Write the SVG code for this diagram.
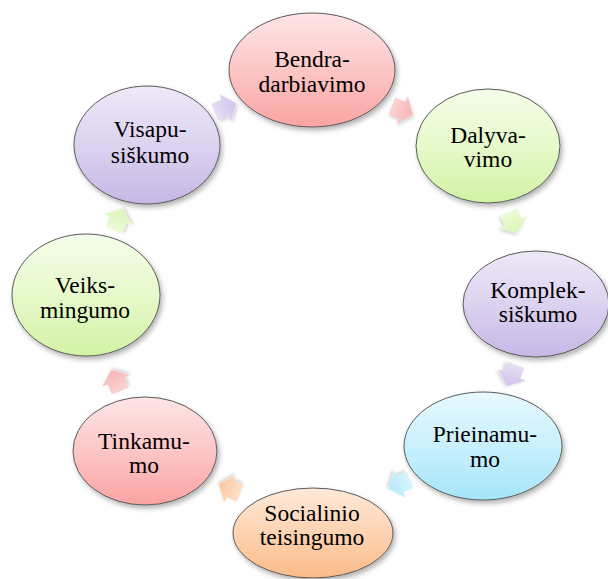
<svg xmlns="http://www.w3.org/2000/svg" width="608" height="579" viewBox="0 0 608 579">
<defs>
  <filter id="sh" x="-20%" y="-20%" width="150%" height="150%">
    <feDropShadow dx="2" dy="3" stdDeviation="2.5" flood-color="#000" flood-opacity="0.3"/>
  </filter>
  <filter id="sha" x="-40%" y="-40%" width="180%" height="180%">
    <feDropShadow dx="1.5" dy="2" stdDeviation="1.5" flood-color="#000" flood-opacity="0.18"/>
  </filter>
  <linearGradient id="gRed" x1="0" y1="0" x2="0" y2="1">
    <stop offset="0" stop-color="#fde6e6"/><stop offset="0.5" stop-color="#fcc6c6"/><stop offset="1" stop-color="#fba3a3"/>
  </linearGradient>
  <linearGradient id="gGreen" x1="0" y1="0" x2="0" y2="1">
    <stop offset="0" stop-color="#f5fdea"/><stop offset="0.5" stop-color="#e6f9cb"/><stop offset="1" stop-color="#d2f3a4"/>
  </linearGradient>
  <linearGradient id="gPurple" x1="0" y1="0" x2="0" y2="1">
    <stop offset="0" stop-color="#eee9f8"/><stop offset="0.5" stop-color="#dcd2f0"/><stop offset="1" stop-color="#c7b7e6"/>
  </linearGradient>
  <linearGradient id="gBlue" x1="0" y1="0" x2="0" y2="1">
    <stop offset="0" stop-color="#e8f9fe"/><stop offset="0.5" stop-color="#c9f0fd"/><stop offset="1" stop-color="#a6e5fa"/>
  </linearGradient>
  <linearGradient id="gOrange" x1="0" y1="0" x2="0" y2="1">
    <stop offset="0" stop-color="#fee9d9"/><stop offset="0.5" stop-color="#fdd3b2"/><stop offset="1" stop-color="#fbbb88"/>
  </linearGradient>
  <linearGradient id="aRed" x1="0" y1="0" x2="1" y2="0">
    <stop offset="0" stop-color="#fbd3d3"/><stop offset="1" stop-color="#f8b4b4"/>
  </linearGradient>
  <linearGradient id="aGreen" x1="0" y1="0" x2="1" y2="0">
    <stop offset="0" stop-color="#ecfbd8"/><stop offset="1" stop-color="#daf6b6"/>
  </linearGradient>
  <linearGradient id="aPurple" x1="0" y1="0" x2="1" y2="0">
    <stop offset="0" stop-color="#e6def5"/><stop offset="1" stop-color="#d0c3ec"/>
  </linearGradient>
  <linearGradient id="aBlue" x1="0" y1="0" x2="1" y2="0">
    <stop offset="0" stop-color="#d8f5fe"/><stop offset="1" stop-color="#b4eafc"/>
  </linearGradient>
  <linearGradient id="aOrange" x1="0" y1="0" x2="1" y2="0">
    <stop offset="0" stop-color="#fde0c8"/><stop offset="1" stop-color="#fbc79d"/>
  </linearGradient>
  <polygon id="arr" points="-11,-9 0,-9 0,-15 12,0 0,15 0,9 -11,9"/>
</defs>
<style>
  .node ellipse { stroke: #5a5a5a; stroke-width: 1; filter: url(#sh); }
  .lbl { font-family: 'Liberation Serif', 'Times New Roman', serif; font-size: 23.5px; fill: #000; text-anchor: middle; }
  .conn use { filter: url(#sha); }
</style>
<rect width="608" height="579" fill="#fff"/>

<g id="connectors" class="conn">
  <use href="#arr" fill="url(#aRed)" transform="translate(402,110) rotate(22.5)"/>
  <use href="#arr" fill="url(#aGreen)" transform="translate(513,222) rotate(67.5)"/>
  <use href="#arr" fill="url(#aPurple)" transform="translate(512,375) rotate(112.5)"/>
  <use href="#arr" fill="url(#aBlue)" transform="translate(400,484) rotate(157.5)"/>
  <use href="#arr" fill="url(#aOrange)" transform="translate(230,489) rotate(202.5)"/>
  <use href="#arr" fill="url(#aRed)" transform="translate(116,381) rotate(247.5)"/>
  <use href="#arr" fill="url(#aGreen)" transform="translate(118,220) rotate(292.5)"/>
  <use href="#arr" fill="url(#aPurple)" transform="translate(225,108) rotate(337.5)"/>
</g>

<g id="n-bendradarbiavimo" class="node">
  <ellipse cx="312" cy="70" rx="83" ry="57" fill="url(#gRed)"/>
  <text class="lbl" x="312" y="67">Bendra-</text>
  <text class="lbl" x="312" y="92">darbiavimo</text>
</g>
<g id="n-dalyvavimo" class="node">
  <ellipse cx="488" cy="146" rx="72" ry="57" fill="url(#gGreen)"/>
  <text class="lbl" x="488" y="143">Dalyva-</text>
  <text class="lbl" x="488" y="167">vimo</text>
</g>
<g id="n-kompleksiskumo" class="node">
  <ellipse cx="536" cy="304" rx="73" ry="53" fill="url(#gPurple)"/>
  <text class="lbl" x="538" y="298">Komplek-</text>
  <text class="lbl" x="538" y="322">siškumo</text>
</g>
<g id="n-prieinamumo" class="node">
  <ellipse cx="483" cy="446" rx="79" ry="54" fill="url(#gBlue)"/>
  <text class="lbl" x="485" y="442">Prieinamu-</text>
  <text class="lbl" x="485" y="467">mo</text>
</g>
<g id="n-socialinio" class="node">
  <ellipse cx="313" cy="533" rx="80" ry="45" fill="url(#gOrange)"/>
  <text class="lbl" x="312" y="521">Socialinio</text>
  <text class="lbl" x="312" y="545">teisingumo</text>
</g>
<g id="n-tinkamumo" class="node">
  <ellipse cx="145" cy="451" rx="72" ry="54" fill="url(#gRed)"/>
  <text class="lbl" x="144" y="449">Tinkamu-</text>
  <text class="lbl" x="144" y="473">mo</text>
</g>
<g id="n-veiksmingumo" class="node">
  <ellipse cx="86" cy="295" rx="74" ry="61" fill="url(#gGreen)"/>
  <text class="lbl" x="85" y="293">Veiks-</text>
  <text class="lbl" x="85" y="318">mingumo</text>
</g>
<g id="n-visapusiskumo" class="node">
  <ellipse cx="147" cy="145" rx="73" ry="59" fill="url(#gPurple)"/>
  <text class="lbl" x="150" y="137">Visapu-</text>
  <text class="lbl" x="150" y="163">siškumo</text>
</g>
</svg>
